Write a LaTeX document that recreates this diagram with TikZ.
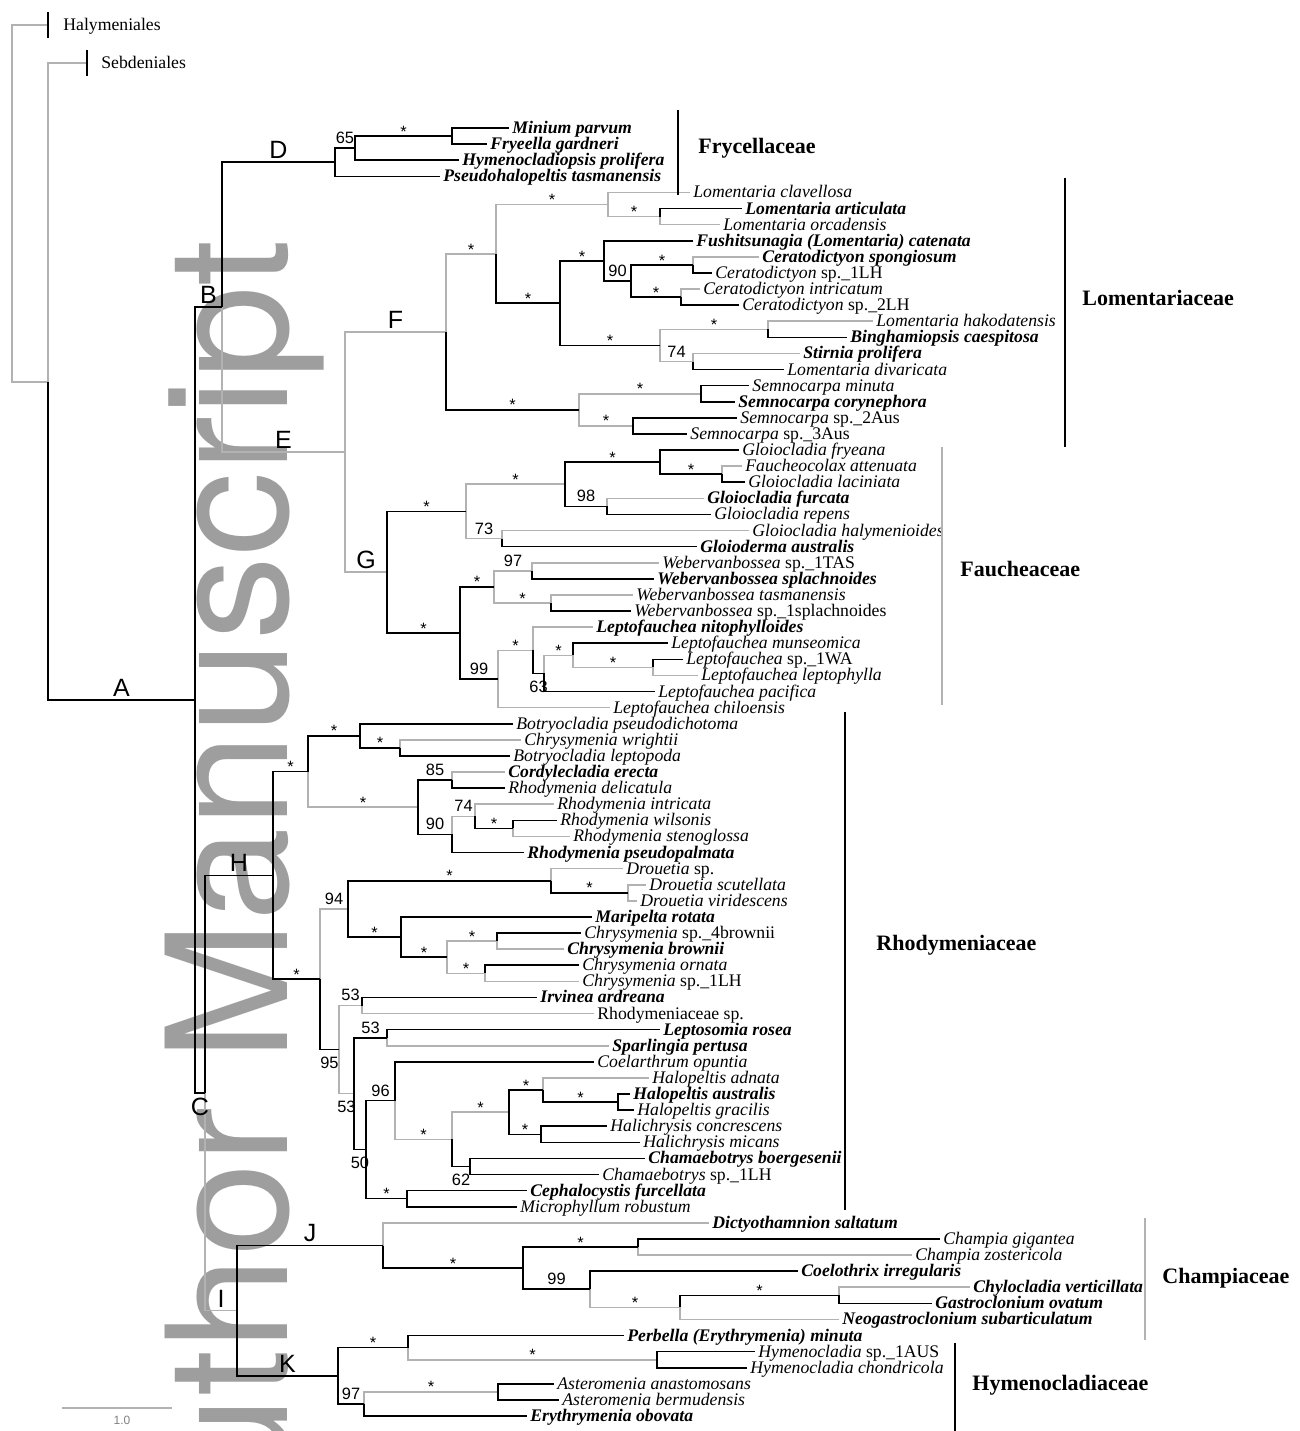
\documentclass[tikz,border=0pt]{standalone}
\usepackage{fontspec}
\setmainfont{Liberation Serif}
\setsansfont{Liberation Sans}
\newfontfamily\wmfont{TeX Gyre Heros}
\usetikzlibrary{calc}

\begin{document}
\begin{tikzpicture}[x=0.5pt, y=-0.5pt,
    blk/.style={line width=0.8pt, black},
    gry/.style={line width=0.8pt, black!30},
    lf/.style={anchor=west, inner xsep=1.5pt, inner ysep=0pt, text height=1.5ex, text depth=0.3ex, font=\fontsize{8.85}{10}\selectfont\itshape},
    lfb/.style={lf, font=\fontsize{8.85}{10}\selectfont\bfseries\itshape},
    lfr/.style={lf, font=\fontsize{8.85}{10}\selectfont},
    bsf/.style={inner sep=0pt, font=\sffamily\fontsize{8.2}{9}\selectfont},
    bs/.style={bsf, anchor=south, yshift=2pt},
    bsb/.style={bsf, anchor=north, yshift=-3.5pt},
    bst/.style={bsf, anchor=south, yshift=-0.7pt},
    clab/.style={inner sep=0pt, font=\sffamily\fontsize{12.5}{14}\selectfont},
    fam/.style={anchor=west, inner sep=0pt, font=\fontsize{11}{13}\selectfont\bfseries},
    wm/.style={rotate=90, anchor=base east, inner sep=0pt, text=black!38, font=\wmfont\fontsize{84}{84}\selectfont}]
    \useasboundingbox (0,0) rectangle (1300,1431);

    % watermark
    \node[wm] (wmark) at (287,240) {Author Manuscript};

    % taxa, one row each
    \foreach \n/\x/\s/\t [count=\i] in {
        t1/509/lfb/Minium parvum, t2/487/lfb/Fryeella gardneri,
        t3/459/lfb/Hymenocladiopsis prolifera, t4/440/lfb/Pseudohalopeltis tasmanensis,
        t5/690/lf/Lomentaria clavellosa, t6/742/lfb/Lomentaria articulata,
        t7/720/lf/Lomentaria orcadensis, t8/693/lfb/Fushitsunagia (Lomentaria) catenata,
        t9/759/lfb/Ceratodictyon spongiosum, t10/712/lf/{Ceratodictyon \upshape sp.\_1LH},
        t11/700/lf/Ceratodictyon intricatum, t12/739/lf/{Ceratodictyon \upshape sp.\_2LH},
        t13/873/lf/Lomentaria hakodatensis, t14/847/lfb/Binghamiopsis caespitosa,
        t15/800/lfb/Stirnia prolifera, t16/784/lf/Lomentaria divaricata,
        t17/749/lf/Semnocarpa minuta, t18/735/lfb/Semnocarpa corynephora,
        t19/737/lf/{Semnocarpa \upshape sp.\_2Aus}, t20/687/lf/{Semnocarpa \upshape sp.\_3Aus},
        t21/739/lf/Gloiocladia fryeana, t22/742/lf/Faucheocolax attenuata,
        t23/745/lf/Gloiocladia laciniata, t24/704/lfb/Gloiocladia furcata,
        t25/711/lf/Gloiocladia repens, t26/749/lf/Gloiocladia halymenioides,
        t27/697/lfb/Gloioderma australis, t28/659/lf/{Webervanbossea \upshape sp.\_1TAS},
        t29/654/lfb/Webervanbossea splachnoides, t30/633/lf/Webervanbossea tasmanensis,
        t31/631/lf/{Webervanbossea \upshape sp.\_1splachnoides}, t32/593/lfb/Leptofauchea nitophylloides,
        t33/668/lf/Leptofauchea munseomica, t34/683/lf/{Leptofauchea \upshape sp.\_1WA},
        t35/698/lf/Leptofauchea leptophylla, t36/655/lf/Leptofauchea pacifica,
        t37/610/lf/Leptofauchea chiloensis, t38/513/lf/Botryocladia pseudodichotoma,
        t39/521/lf/Chrysymenia wrightii, t40/510/lf/Botryocladia leptopoda,
        t41/505/lfb/Cordylecladia erecta, t42/505/lf/Rhodymenia delicatula,
        t43/554/lf/Rhodymenia intricata, t44/557/lf/Rhodymenia wilsonis,
        t45/570/lf/Rhodymenia stenoglossa, t46/524/lfb/Rhodymenia pseudopalmata,
        t47/623/lf/{Drouetia \upshape sp.}, t48/646/lf/Drouetia scutellata,
        t49/637/lf/Drouetia viridescens, t50/592/lfb/Maripelta rotata,
        t51/581/lf/{Chrysymenia \upshape sp.\_4brownii}, t52/564/lfb/Chrysymenia brownii,
        t53/579/lf/Chrysymenia ornata, t54/579/lf/{Chrysymenia \upshape sp.\_1LH},
        t55/537/lfb/Irvinea ardreana, t56/594/lfr/Rhodymeniaceae sp.,
        t57/660/lfb/Leptosomia rosea, t58/609/lfb/Sparlingia pertusa,
        t59/594/lf/Coelarthrum opuntia, t60/649/lf/Halopeltis adnata,
        t61/630/lfb/Halopeltis australis, t62/634/lf/Halopeltis gracilis,
        t63/607/lf/Halichrysis concrescens, t64/640/lf/Halichrysis micans,
        t65/645/lfb/Chamaebotrys boergesenii, t66/599/lf/{Chamaebotrys \upshape sp.\_1LH},
        t67/527/lfb/Cephalocystis furcellata, t68/517/lf/Microphyllum robustum,
        t69/709/lfb/Dictyothamnion saltatum, t70/940/lf/Champia gigantea,
        t71/912/lf/Champia zostericola, t72/798/lfb/Coelothrix irregularis,
        t73/970/lfb/Chylocladia verticillata, t74/932/lfb/Gastroclonium ovatum,
        t75/839/lfb/Neogastroclonium subarticulatum, t76/624/lfb/Perbella (Erythrymenia) minuta,
        t77/755/lf/{Hymenocladia \upshape sp.\_1AUS}, t78/747/lf/Hymenocladia chondricola,
        t79/554/lf/Asteromenia anastomosans, t80/559/lf/Asteromenia bermudensis,
        t81/527/lfb/Erythrymenia obovata}
        {\node[\s] (\n) at (\x, {128+16.1*(\i-1)}) {\t};}

    % inner nodes
    \foreach \n/\x/\y in {r0/12/204, r1/48/382, hT/48/25, sT/87/63,
        nA/195/700, nB/222/307, nC/205/1093, nD/335/162, n65/355/148, nMi/452/136,
        nE/345/452, nF/446/332, nL1/496/254, nL2/608/204.5, nL2a/660/216.5,
        nL3/560/303, nL4/604/261, nL5/631/281, nL6/693/265, nL7/681/297,
        nL8/660/345.4, nL9/768/329.3, nL10/693/361.5, nS/579/409.8, nS1/701/393.7, nS2/633/425.9,
        nG/387/572.2, nG1/466/511.4, nG2/565/484.2, nG3/660/462.1, nG4/722/474.2,
        nG98/607/506.4, nG73/502/538.6, nW/460/633, nW1/494/586.9, nW97/532/570.8,
        nWt/551/603, nLe/498/679, nLe1/533/650.3, nLe63/544/673.4, nLe2/573/655.3, nLe3/653/667.4,
        nH/273/875.3, nHa/308/771.5, nHb/360/735.8, nHc/400/747.9, nHd/418/807.2,
        nH85/452/780, nH90/452/834.4, nH74/475/816.3, nH74b/513/828.4,
        nHe/320/979.2, nH94/348/908.9, nDr/551/880.7, nDr2/628/892.8, nMa/401/937,
        nCh/447/957.1, nCh1/497/941, nCh2/485/973.3, nH95/339/1049.5, nIr/362/1005.5,
        nH53/354/1093.6, nLp/387/1037.7, nH50/366/1149.6, nH96/395/1100.6, nH96b/452/1139.3,
        nHl/509/1112.1, nHp/543/1090, nHg/618/1102, nHi/541/1134.3, nH62/470/1166.5, nCe/407/1198.6,
        nI/237/1310.6, nJ/383/1245.5, nJ1/523/1268.1, nCp/638/1247, nJ99/590/1289.2,
        nCy/680/1307.3, nCy2/839/1295.3, nK/338/1375.8, nK1/408/1347.6, nHy/657/1359.7,
        nK97/364/1404, nAs/498/1391.9}
        {\coordinate (\n) at (\x,\y);}

    % branches
    \foreach \p/\c in {r0/hT, r0/r1, r1/sT, nB/nE, nC/nI, nE/nF, nE/nG, nF/nL1, nL1/nL2,
        nL2/t5, nL2/nL2a, nL2a/t7, nL6/t9, nL7/t11, nL8/nL9, nL9/t13, nL8/nL10, nL10/t15,
        nS/nS1, nS/nS2, nG1/nG2, nG4/t22, nG98/t24, nG1/nG73, nG73/t26, nW1/nW97, nW97/t28,
        nW1/nWt, nWt/t30, nLe/nLe1, nLe1/t32, nLe63/nLe2, nLe2/nLe3, nLe3/t35, nLe/t37,
        nHc/t39, nHa/nHd, nH85/t41, nH90/nH74, nH74/t43, nH74b/t45, nHe/nH94, nDr/t47,
        nDr2/t48, nDr2/t49, nCh/nCh1, nCh1/t52, nCh/nCh2, nCh2/t54, nH95/nIr, nIr/t56,
        nH95/nH53, nLp/t58, nH96/nH96b, nH96b/nHl, nHp/t60, nJ/t69, nCp/t71, nJ99/nCy,
        nCy2/t73, nCy/t75, nK1/nHy, nK97/nAs}
        \draw[gry] (\p) |- (\c);
    \foreach \p/\c in {r1/nA, nA/nB, nA/nC, nB/nD, nD/n65, nD/t4, n65/nMi, n65/t3, nMi/t1, nMi/t2,
        nL1/nL3, nL2a/t6, nL3/nL4, nL3/nL8, nL4/t8, nL4/nL5, nL5/nL6, nL5/nL7, nL6/t10,
        nL7/t12, nL9/t14, nL10/t16, nF/nS, nS1/t17, nS1/t18, nS2/t19, nS2/t20,
        nG/nG1, nG2/nG3, nG3/t21, nG3/nG4, nG4/t23, nG2/nG98, nG98/t25, nG73/t27, nG/nW,
        nW/nW1, nW97/t29, nWt/t31, nW/nLe, nLe1/nLe63, nLe2/t33, nLe3/t34, nLe63/t36,
        nC/nH, nH/nHa, nHa/nHb, nHb/t38, nHb/nHc, nHc/t40, nHd/nH85, nH85/t42, nHd/nH90,
        nH74/nH74b, nH74b/t44, nH90/t46, nH/nHe, nH94/nDr, nDr/nDr2, nH94/nMa, nMa/t50,
        nMa/nCh, nCh1/t51, nCh2/t53, nHe/nH95, nIr/t55, nH53/nLp, nLp/t57, nH53/nH50,
        nH50/nH96, nH96/t59, nHl/nHp, nHp/nHg, nHg/t61, nHg/t62, nHl/nHi, nHi/t63, nHi/t64,
        nH96b/nH62, nH62/t65, nH62/t66, nH50/nCe, nCe/t67, nCe/t68,
        nI/nJ, nJ/nJ1, nJ1/nCp, nCp/t70, nJ1/nJ99, nJ99/t72, nCy/nCy2, nCy2/t74,
        nI/nK, nK/nK1, nK1/t76, nHy/t77, nHy/t78, nK/nK97, nAs/t79, nAs/t80, nK97/t81}
        \draw[blk] (\p) |- (\c);

    % outgroups
    \draw[blk] ([yshift=-6.5pt]hT) -- ([yshift=6.5pt]hT);
    \draw[blk] ([yshift=-6.5pt]sT) -- ([yshift=6.5pt]sT);
    \node[lfr] (hal) at (60,25) {Halymeniales};
    \node[lfr] (seb) at (98,63) {Sebdeniales};

    % support values
    \foreach \p/\c/\t in {nD/n65/65, nL4/nL5/90, nL8/nL10/74, nG2/nG98/98, nG1/nG73/73,
        nW1/nW97/97, nW/nLe/99, nHd/nH85/85, nHd/nH90/90, nH90/nH74/74, nHe/nH94/94,
        nH95/nIr/53, nH53/nLp/53, nH50/nH96/96, nJ1/nJ99/99, nK/nK97/97}
        \node[bs] at ($(\p |- \c)!.5!(\c)$) {\t};
    \foreach \p/\c/\t in {nLe1/nLe63/63, nHe/nH95/95, nH95/nH53/53, nH53/nH50/50, nH96b/nH62/62}
        \node[bsb] at ($(\p |- \c)!.5!(\c)$) {\t};
    \foreach \p/\c in {n65/nMi, nF/nL1, nL1/nL2, nL2/nL2a, nL1/nL3, nL3/nL4, nL5/nL6, nL5/nL7,
        nL3/nL8, nL8/nL9, nF/nS, nS/nS1, nS/nS2, nG/nG1, nG1/nG2, nG2/nG3, nG3/nG4, nG/nW,
        nW/nW1, nW1/nWt, nLe/nLe1, nLe63/nLe2, nLe2/nLe3, nH/nHa, nHa/nHb, nHb/nHc, nHa/nHd,
        nH74/nH74b, nH/nHe, nH94/nDr, nDr/nDr2, nH94/nMa, nMa/nCh, nCh/nCh1, nCh/nCh2,
        nH96/nH96b, nH96b/nHl, nHl/nHp, nHp/nHg, nHl/nHi, nH50/nCe, nJ/nJ1, nJ1/nCp,
        nJ99/nCy, nCy/nCy2, nK/nK1, nK1/nHy, nK97/nAs}
        \node[bst] at ($(\p |- \c)!.5!(\c)$) {*};

    % clade letters
    \foreach \p/\c/\t in {r1/nA/A, nA/nB/B, nB/nD/D, nB/nE/E, nE/nF/F, nE/nG/G,
        nC/nH/H, nC/nI/I, nI/nJ/J, nI/nK/K}
        \node[clab, anchor=south, yshift=1.5pt] at ($(\p |- \c)!.5!(\c)$) {\t};
    \node[clab, anchor=north, yshift=-2.5pt] at ($(nA |- nC)!.5!(nC)$) {C};

    % families
    \node[fam] (fry) at (698,148) {Frycellaceae};
    \node[fam] (lom) at (1082,298) {Lomentariaceae};
    \node[fam] (fau) at (960,569) {Faucheaceae};
    \node[fam] (rho) at (876,945) {Rhodymeniaceae};
    \node[fam] (cha) at (1162,1278) {Champiaceae};
    \node[fam] (hym) at (972,1385) {Hymenocladiaceae};
    \draw[blk] (678,110) -- (678,195);
    \draw[blk] (1065,178) -- (1065,447);
    \draw[gry] (942,447) -- (942,705);
    \draw[blk] (845,712) -- (845,1210);
    \draw[gry] (1145,1218) -- (1145,1340);
    \draw[blk] (955,1343) -- (955,1431);

    % scale
    \draw[gry] (62,1408) -- (172,1408);
    \node[inner sep=0pt, text=black!50, font=\sffamily\fontsize{6}{7}\selectfont] (sc) at (122,1420) {1.0};
\end{tikzpicture}
\end{document}
